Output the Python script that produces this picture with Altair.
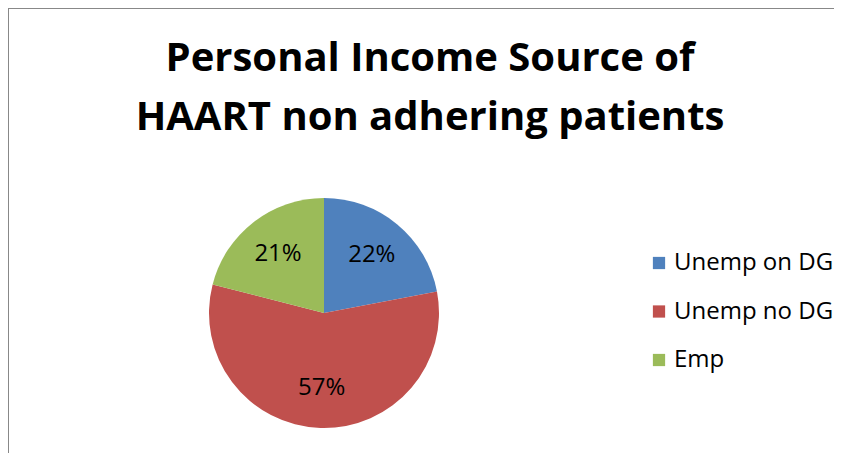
import altair as alt
import pandas as pd

categories = ["Unemp on DG", "Unemp no DG", "Emp"]
values = [22, 57, 21]
labels = ["22%", "57%", "21%"]
colors = ["#4F81BD", "#C0504D", "#9BBB59"]
title_lines = ["Personal Income Source of", "HAART non adhering patients"]

df = pd.DataFrame({"cat": categories, "val": values, "lab": labels, "ord": [0, 1, 2]})
tdf = pd.DataFrame({"t": title_lines, "i": [0, 1]})

FONT = "Open Sans"
W, H = 826, 445
cx, cy = 316, 305

base = alt.Chart(df).encode(
    theta=alt.Theta("val:Q", stack=True),
    order=alt.Order("ord:Q"),
)

pie = base.mark_arc(radius=115).encode(
    x=alt.value(cx), y=alt.value(cy),
    color=alt.Color("cat:N", sort=categories,
                    scale=alt.Scale(domain=categories, range=colors),
                    legend=alt.Legend(title=None, orient="none", legendX=639, legendY=243,
                                      symbolType="square", symbolSize=150, symbolStrokeWidth=0,
                                      labelFontSize=24, labelFont=FONT, labelColor="black",
                                      rowPadding=24.5, labelOffset=3, labelLimit=300)),
)

txt = base.mark_text(radius=75, fontSize=24, font=FONT, color="black").encode(
    x=alt.value(cx), y=alt.value(cy), text="lab:N"
)

title = alt.Chart(tdf).mark_text(fontSize=40, font=FONT, fontWeight="bold", color="black",
                                 baseline="middle", align="center").encode(
    x=alt.value(422),
    y=alt.Y("i:Q", axis=None, scale=alt.Scale(domain=[0, 1], range=[51, 110])),
    text="t:N",
)

border_top = alt.Chart(df).mark_rule(color="#888888", strokeWidth=2).encode(
    x=alt.value(0), x2=alt.value(W + 20), y=alt.value(0)
)
border_left = alt.Chart(df).mark_rule(color="#888888", strokeWidth=2).encode(
    x=alt.value(0), y=alt.value(0), y2=alt.value(H + 20)
)

chart = alt.layer(pie, txt, title, border_top, border_left).resolve_scale(y="independent").properties(
    width=W, height=H, padding=0, autosize=alt.AutoSizeParams(type="none")
).configure_view(stroke="white", strokeOpacity=0, strokeWidth=0)

chart.save("out.html", embed_options={"renderer": "svg", "actions": False})
